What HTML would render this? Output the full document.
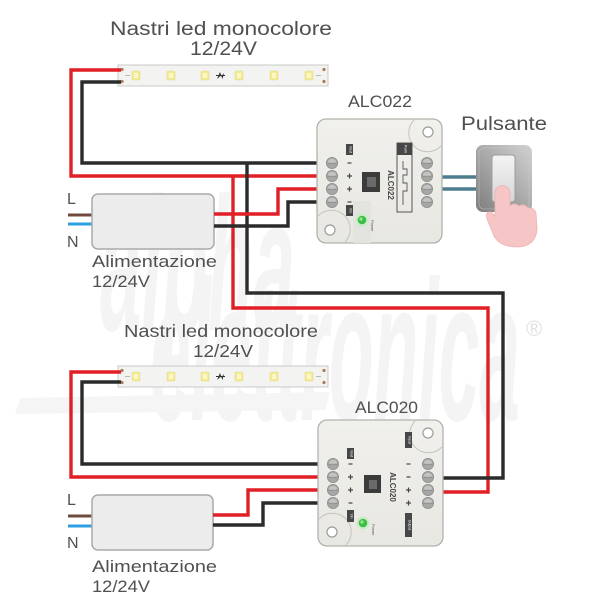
<!DOCTYPE html>
<html>
<head>
<meta charset="utf-8">
<style>
html,body{margin:0;padding:0;background:#fff;}
svg{display:block;}
</style>
</head>
<body>
<svg width="600" height="600" viewBox="0 0 600 600" xmlns="http://www.w3.org/2000/svg" font-family="'Liberation Sans', 'DejaVu Sans', sans-serif">
<defs>
  <linearGradient id="boxg" x1="0" y1="0" x2="0" y2="1">
    <stop offset="0" stop-color="#f1f0ec"/>
    <stop offset="1" stop-color="#e8e7e2"/>
  </linearGradient>
  <linearGradient id="plate" x1="1" y1="0" x2="0" y2="1">
    <stop offset="0" stop-color="#d2d2d2"/>
    <stop offset="0.5" stop-color="#a9a9a9"/>
    <stop offset="1" stop-color="#7c7c7c"/>
  </linearGradient>
  <linearGradient id="rocker" x1="0" y1="0" x2="0" y2="1">
    <stop offset="0" stop-color="#f4f4f4"/>
    <stop offset="1" stop-color="#d6d6d6"/>
  </linearGradient>
  <g id="term">
    <circle r="5.6" fill="#a6a7a5" stroke="#8e8f8d" stroke-width="0.8"/>
    <ellipse cx="0" cy="-1.5" rx="4" ry="2.5" fill="#c4c5c3"/>
    <line x1="-4.5" y1="0.3" x2="4.5" y2="0.3" stroke="#8a8b89" stroke-width="0.9"/>
  </g>
  <g id="led">
    <rect x="-4" y="-4.5" width="8" height="9" rx="1.2" fill="#f3eb8a" stroke="#e2dc9a" stroke-width="0.6"/>
    <rect x="-2.2" y="-2.6" width="4.4" height="5.2" fill="#fbf6c8"/>
  </g>
  <g id="strip">
    <rect x="0" y="0" width="210" height="21" fill="#f3f3f1" stroke="#c8c8c6" stroke-width="1"/>
    <circle cx="4" cy="4.5" r="1.6" fill="#b07a55"/>
    <circle cx="4" cy="16.5" r="1.6" fill="#b07a55"/>
    <circle cx="206" cy="4.5" r="1.6" fill="#b07a55"/>
    <circle cx="206" cy="16.5" r="1.6" fill="#b07a55"/>
    <line x1="7" y1="10.5" x2="12" y2="10.5" stroke="#aaa" stroke-width="0.8"/>
    <line x1="198" y1="10.5" x2="203" y2="10.5" stroke="#aaa" stroke-width="0.8"/>
    <use href="#led" x="18" y="10.5"/>
    <use href="#led" x="53" y="10.5"/>
    <use href="#led" x="87" y="10.5"/>
    <use href="#led" x="121" y="10.5"/>
    <use href="#led" x="156" y="10.5"/>
    <use href="#led" x="191" y="10.5"/>
    <path d="M99,14 L102,7 L103.5,11 L106,8 L104.5,14 L103,10.5 Z" fill="#333"/>
    <line x1="98" y1="10.5" x2="107" y2="10.5" stroke="#333" stroke-width="1"/>
  </g>
</defs>

<!-- watermark -->
<g fill="#f4f4f4" font-weight="bold" font-style="italic">
  <text x="100" y="330" font-size="190" textLength="195" lengthAdjust="spacingAndGlyphs">alpha</text>
  <text x="150" y="420" font-size="200" textLength="370" lengthAdjust="spacingAndGlyphs">elettronica</text>
</g>
<polygon points="20,398 330,392 325,410 15,414" fill="#f5f5f5"/>
<text x="526" y="336" font-size="22" fill="#e0e0e0">®</text>

<!-- ===== TOP SECTION ===== -->
<g fill="#505050">
  <text x="110" y="35" font-size="19" textLength="222" lengthAdjust="spacingAndGlyphs">Nastri led monocolore</text>
  <text x="190" y="55" font-size="19" textLength="67" lengthAdjust="spacingAndGlyphs">12/24V</text>
  <text x="348" y="107" font-size="17" textLength="64" lengthAdjust="spacingAndGlyphs">ALC022</text>
  <text x="461" y="130" font-size="19" textLength="86" lengthAdjust="spacingAndGlyphs">Pulsante</text>
  <text x="67" y="204" font-size="16">L</text>
  <text x="67" y="247" font-size="16">N</text>
  <text x="92" y="267" font-size="17" textLength="125" lengthAdjust="spacingAndGlyphs">Alimentazione</text>
  <text x="92" y="287" font-size="17" textLength="58" lengthAdjust="spacingAndGlyphs">12/24V</text>
</g>

<use href="#strip" x="118" y="65"/>

<!-- power supply 1 -->
<line x1="68" y1="215" x2="93" y2="215" stroke="#6e4b3c" stroke-width="3"/>
<line x1="68" y1="224" x2="93" y2="224" stroke="#2b9fe0" stroke-width="3"/>
<rect x="92" y="194" width="122" height="55" rx="6" fill="#ececec" stroke="#a9a9a9" stroke-width="1.5"/>

<!-- wires top -->
<g fill="none" stroke-width="3.4" stroke-linejoin="miter">
  <path d="M121,70 H71 V176 H320" stroke="#e01f26"/>
  <path d="M121,82 H82 V163 H320" stroke="#2b2b2b"/>
  <path d="M233,176 V308 H488 V492 H440" stroke="#e01f26"/>
  <path d="M247,163 V293 H503 V478 H440" stroke="#2b2b2b"/>
  <path d="M214,214 H278 V189 H320" stroke="#e01f26"/>
  <path d="M214,226 H288 V202 H320" stroke="#2b2b2b"/>
  <path d="M440,177 H478" stroke="#4e7e8e"/>
  <path d="M440,189 H478" stroke="#4e7e8e"/>
</g>

<!-- ALC022 -->
<g transform="translate(317,119)">
  <rect x="0" y="0" width="125" height="124" rx="9" fill="url(#boxg)" stroke="#b2b2ad" stroke-width="1.3"/>
  <path d="M97,1 A14,14 0 0 0 124,27" fill="none" stroke="#c4c4bf" stroke-width="1"/>
  <path d="M1,97 A14,14 0 0 1 28,123" fill="none" stroke="#c4c4bf" stroke-width="1"/>
  <circle cx="111" cy="13" r="5" fill="#fff" stroke="#9c9c98" stroke-width="1.2"/>
  <circle cx="13" cy="111" r="5" fill="#fff" stroke="#9c9c98" stroke-width="1.2"/>
  <rect x="36" y="82" width="18" height="42" fill="#e3e3df"/>
  <use href="#term" x="15" y="44"/>
  <use href="#term" x="15" y="57"/>
  <use href="#term" x="15" y="70"/>
  <use href="#term" x="15" y="83"/>
  <use href="#term" x="110" y="44"/>
  <use href="#term" x="110" y="57"/>
  <use href="#term" x="110" y="70"/>
  <use href="#term" x="110" y="83"/>
  <rect x="29" y="25" width="7" height="11" fill="#474747"/>
  <text x="32.5" y="30.5" font-size="3.5" fill="#fff" text-anchor="middle" transform="rotate(90 32.5 30.5)">Vout</text>
  <rect x="29" y="86" width="7" height="11" fill="#474747"/>
  <text x="32.5" y="91.5" font-size="3.5" fill="#fff" text-anchor="middle" transform="rotate(90 32.5 91.5)">Vin</text>
  <g stroke="#444" stroke-width="1.2">
    <line x1="30.5" y1="44" x2="34.5" y2="44"/>
    <line x1="30" y1="57" x2="35" y2="57"/><line x1="32.5" y1="54.5" x2="32.5" y2="59.5"/>
    <line x1="30" y1="70" x2="35" y2="70"/><line x1="32.5" y1="67.5" x2="32.5" y2="72.5"/>
    <line x1="30.5" y1="83" x2="34.5" y2="83"/>
  </g>
  <rect x="45" y="53" width="18" height="20" fill="#3b3b3b"/>
  <rect x="50" y="58" width="9" height="10" fill="#6a6a6a"/>
  <text x="71" y="66" font-size="8" font-weight="bold" fill="#444" text-anchor="middle" transform="rotate(90 71 66)">ALC022</text>
  <rect x="80" y="24" width="15" height="69" fill="none" stroke="#555" stroke-width="1"/>
  <rect x="80" y="24" width="15" height="12" fill="#474747"/>
  <text x="87.5" y="30" font-size="3.5" fill="#fff" text-anchor="middle" transform="rotate(90 87.5 30)">Push</text>
  <path d="M86,42 V50 H90 V56 H86 V64 H90 V72 H86 V86" fill="none" stroke="#555" stroke-width="0.9"/>
  <circle cx="45" cy="101" r="6.5" fill="#c9ecc9"/>
  <circle cx="45" cy="101" r="4.3" fill="#3fbe44"/>
  <circle cx="44" cy="100" r="1.6" fill="#9be39d"/>
  <text x="54" y="101" font-size="4" fill="#555" transform="rotate(90 54 101)">Power</text>
</g>

<!-- Pulsante -->
<rect x="476" y="145" width="56" height="67" rx="7" fill="url(#plate)"/>
<rect x="479" y="148" width="50" height="61" rx="5" fill="none" stroke="#c9c9c9" stroke-width="0.8" opacity="0.6"/>
<rect x="492" y="155" width="23" height="47" rx="3" fill="url(#rocker)" stroke="#9d9d9d" stroke-width="1"/>
<path d="M495,193 A7.5,7.5 0 0 1 510,193 V206 Q514,202 519,206 Q524,203 528,208 Q534,207 536,213 L537,229 Q536,246 518,247 Q500,247 494,236 L487,219 Q485,211 491,212 L495,216 Z" fill="#f6c5c5" stroke="#eeb3b3" stroke-width="0.8"/>

<!-- ===== BOTTOM SECTION ===== -->
<g fill="#505050">
  <text x="124" y="337" font-size="17.5" textLength="194" lengthAdjust="spacingAndGlyphs">Nastri led monocolore</text>
  <text x="193" y="357" font-size="17.5" textLength="60" lengthAdjust="spacingAndGlyphs">12/24V</text>
  <text x="355" y="413" font-size="17" textLength="63" lengthAdjust="spacingAndGlyphs">ALC020</text>
  <text x="67" y="505" font-size="16">L</text>
  <text x="67" y="548" font-size="16">N</text>
  <text x="92" y="572" font-size="17" textLength="125" lengthAdjust="spacingAndGlyphs">Alimentazione</text>
  <text x="92" y="592" font-size="17" textLength="58" lengthAdjust="spacingAndGlyphs">12/24V</text>
</g>

<use href="#strip" x="118" y="366"/>

<!-- power supply 2 -->
<line x1="68" y1="516" x2="93" y2="516" stroke="#6e4b3c" stroke-width="3"/>
<line x1="68" y1="526" x2="93" y2="526" stroke="#2b9fe0" stroke-width="3"/>
<rect x="92" y="495" width="121" height="55" rx="6" fill="#ececec" stroke="#a9a9a9" stroke-width="1.5"/>

<g fill="none" stroke-width="3.4" stroke-linejoin="miter">
  <path d="M121,372 H71 V477 H321" stroke="#e01f26"/>
  <path d="M121,382 H82 V464 H321" stroke="#2b2b2b"/>
  <path d="M213,515 H248 V490 H321" stroke="#e01f26"/>
  <path d="M213,525 H263 V503 H321" stroke="#2b2b2b"/>
</g>

<!-- ALC020 -->
<g transform="translate(318,420)">
  <rect x="0" y="0" width="125" height="126" rx="9" fill="url(#boxg)" stroke="#b2b2ad" stroke-width="1.3"/>
  <path d="M97,1 A14,14 0 0 0 124,27" fill="none" stroke="#c4c4bf" stroke-width="1"/>
  <path d="M1,99 A14,14 0 0 1 28,125" fill="none" stroke="#c4c4bf" stroke-width="1"/>
  <circle cx="110" cy="13" r="5" fill="#fff" stroke="#9c9c98" stroke-width="1.2"/>
  <circle cx="14" cy="112" r="5" fill="#fff" stroke="#9c9c98" stroke-width="1.2"/>
  <use href="#term" x="15" y="44"/>
  <use href="#term" x="15" y="57"/>
  <use href="#term" x="15" y="70"/>
  <use href="#term" x="15" y="83"/>
  <use href="#term" x="110" y="44"/>
  <use href="#term" x="110" y="57"/>
  <use href="#term" x="110" y="70"/>
  <use href="#term" x="110" y="83"/>
  <rect x="29" y="28" width="7" height="11" fill="#474747"/>
  <text x="32.5" y="33.5" font-size="3.5" fill="#fff" text-anchor="middle" transform="rotate(90 32.5 33.5)">Vout</text>
  <rect x="29" y="90" width="7" height="12" fill="#474747"/>
  <text x="32.5" y="96" font-size="3.5" fill="#fff" text-anchor="middle" transform="rotate(90 32.5 96)">Vin</text>
  <g stroke="#444" stroke-width="1.2">
    <line x1="30.5" y1="44" x2="34.5" y2="44"/>
    <line x1="30" y1="57" x2="35" y2="57"/><line x1="32.5" y1="54.5" x2="32.5" y2="59.5"/>
    <line x1="30" y1="70" x2="35" y2="70"/><line x1="32.5" y1="67.5" x2="32.5" y2="72.5"/>
    <line x1="30.5" y1="83" x2="34.5" y2="83"/>
    <line x1="88.5" y1="44" x2="92.5" y2="44"/>
    <line x1="88.5" y1="57" x2="92.5" y2="57"/>
    <line x1="88" y1="70" x2="93" y2="70"/><line x1="90.5" y1="67.5" x2="90.5" y2="72.5"/>
    <line x1="88" y1="83" x2="93" y2="83"/><line x1="90.5" y1="80.5" x2="90.5" y2="85.5"/>
  </g>
  <rect x="87" y="12" width="7" height="16" fill="#474747"/>
  <text x="90.5" y="20" font-size="3.5" fill="#fff" text-anchor="middle" transform="rotate(90 90.5 20)">Input</text>
  <rect x="87" y="93" width="7" height="24" fill="#474747"/>
  <text x="90.5" y="105" font-size="3.5" fill="#fff" text-anchor="middle" transform="rotate(90 90.5 105)">Output</text>
  <rect x="46" y="55" width="17" height="18" fill="#3b3b3b"/>
  <rect x="51" y="60" width="8" height="9" fill="#6a6a6a"/>
  <text x="72" y="67" font-size="8" font-weight="bold" fill="#444" text-anchor="middle" transform="rotate(90 72 67)">ALC020</text>
  <circle cx="45" cy="103" r="6.5" fill="#c9ecc9"/>
  <circle cx="45" cy="103" r="4.3" fill="#3fbe44"/>
  <circle cx="44" cy="102" r="1.6" fill="#9be39d"/>
  <text x="54" y="104" font-size="4" fill="#555" transform="rotate(90 54 104)">Power</text>
</g>

</svg>
</body>
</html>
